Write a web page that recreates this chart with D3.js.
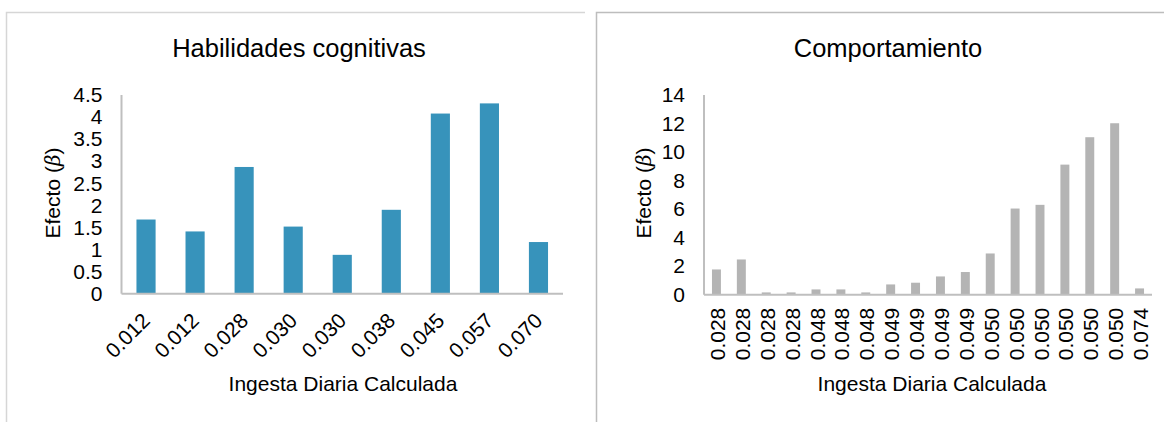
<!DOCTYPE html>
<html>
<head>
<meta charset="utf-8">
<script src="https://cdn.jsdelivr.net/npm/d3@7"></script>
<style>
  html, body { margin: 0; padding: 0; background: #ffffff; }
  svg { display: block; font-family: "Liberation Sans", Arial, sans-serif; }
</style>
</head>
<body>
<svg id="chart" width="1164" height="422"></svg>
<script>
// Cognitive skills panel
const cogCategories = ["0.012", "0.012", "0.028", "0.030", "0.030", "0.038", "0.045", "0.057", "0.070"];
const cogValues = [1.68, 1.41, 2.87, 1.52, 0.88, 1.90, 4.08, 4.31, 1.17];
const cogTicks = [0, 0.5, 1, 1.5, 2, 2.5, 3, 3.5, 4, 4.5];

// Behaviour panel
const behCategories = ["0.028", "0.028", "0.028", "0.028", "0.048", "0.048", "0.048", "0.049", "0.049",
  "0.049", "0.049", "0.050", "0.050", "0.050", "0.050", "0.050", "0.050", "0.074"];
const behValues = [1.77, 2.47, 0.16, 0.16, 0.37, 0.37, 0.16, 0.72, 0.84,
  1.28, 1.59, 2.89, 6.04, 6.30, 9.12, 11.04, 12.02, 0.44];
const behTicks = [0, 2, 4, 6, 8, 10, 12, 14];

const titles = ["Habilidades cognitivas", "Comportamiento"];
const xTitle = "Ingesta Diaria Calculada";

const FONT = "Liberation Sans, Arial, sans-serif";
const svg = d3.select("#chart");

// panel frames
const frame = svg.append("g").attr("fill", "none");
frame.append("path").attr("d", "M6.5,422 V12.5 H585").attr("stroke", "#d6d6d6").attr("stroke-width", 1.5);
frame.append("path").attr("d", "M596.5,422 V12.5 H1164").attr("stroke", "#bdbdbd").attr("stroke-width", 1.5);

function drawPanel(opts) {
  const g = svg.append("g");
  const x = d3.scaleBand()
    .domain(d3.range(opts.categories.length))
    .range([opts.x0, opts.x1])
    .paddingInner(opts.padInner)
    .paddingOuter(opts.padInner / 2);
  const y = d3.scaleLinear().domain([0, opts.yMax]).range([opts.yBase, opts.yTop]);

  // bars
  g.append("g").selectAll("rect")
    .data(opts.values)
    .join("rect")
    .attr("x", (d, i) => x(i))
    .attr("y", d => y(d))
    .attr("width", x.bandwidth())
    .attr("height", d => y(0) - y(d))
    .attr("fill", opts.color);

  // y axis
  const yAxis = g.append("g")
    .attr("transform", `translate(${opts.x0},0)`)
    .call(d3.axisLeft(y).tickValues(opts.ticks).tickSize(0).tickPadding(19)
      .tickFormat(d => String(d)));
  yAxis.select(".domain").attr("stroke", "#bfbfbf").attr("stroke-width", 2).attr("d", `M0,${opts.yTop}V${opts.yBase}`);
  yAxis.selectAll("text").attr("font-size", 21).attr("fill", "#000").attr("font-family", FONT);

  // x axis
  const xAxis = g.append("g")
    .attr("transform", `translate(0,${opts.yBase})`)
    .call(d3.axisBottom(x).tickSize(0).tickFormat(i => opts.categories[i]));
  xAxis.select(".domain").attr("stroke", "#bfbfbf").attr("stroke-width", 2).attr("d", `M${opts.x0},0H${opts.x1}`);
  const xt = xAxis.selectAll("text")
    .attr("font-size", 21).attr("fill", "#000").attr("font-family", FONT)
    .attr("text-anchor", "end").attr("dy", null).attr("y", 0)
    .attr("dominant-baseline", "central");
  if (opts.rotate === -45) {
    xt.attr("transform", "translate(0,23) rotate(-45)");
  } else {
    xt.attr("transform", "translate(1,13) rotate(-90)");
  }

  // titles
  g.append("text").attr("x", opts.titleX).attr("y", 57)
    .attr("text-anchor", "middle").attr("font-size", 25.5).attr("fill", "#000").text(opts.title);
  g.append("text").attr("x", opts.xTitleX).attr("y", 391)
    .attr("text-anchor", "middle").attr("font-size", 21).attr("fill", "#000").text(xTitle);
  const yt = g.append("text")
    .attr("transform", `translate(${opts.yTitleX},${opts.yTitleY}) rotate(-90)`)
    .attr("text-anchor", "middle").attr("font-size", 21).attr("fill", "#000");
  yt.append("tspan").text("Efecto (");
  yt.append("tspan").attr("font-style", "italic").attr("font-family", "DejaVu Serif, serif").attr("font-size", 20).text("β");
  yt.append("tspan").text(")");
}

drawPanel({
  categories: cogCategories, values: cogValues, ticks: cogTicks, yMax: 4.5,
  x0: 121.5, x1: 563, yBase: 293.7, yTop: 95, padInner: 0.61,
  color: "#3793bb", rotate: -45,
  title: titles[0], titleX: 299, xTitleX: 343, yTitleX: 60, yTitleY: 193
});

drawPanel({
  categories: behCategories, values: behValues, ticks: behTicks, yMax: 14,
  x0: 704, x1: 1152, yBase: 294.7, yTop: 95, padInner: 0.64,
  color: "#b4b4b4", rotate: -90,
  title: titles[1], titleX: 888, xTitleX: 932, yTitleX: 651, yTitleY: 193
});
</script>
</body>
</html>
